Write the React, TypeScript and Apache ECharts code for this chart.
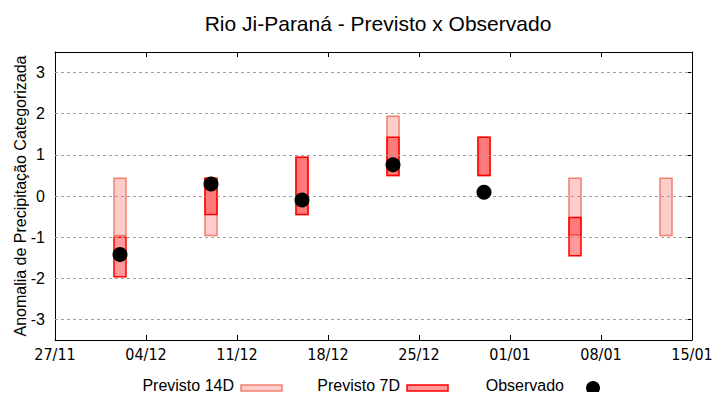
import React, { useEffect, useRef } from "react";
import * as echarts from "echarts";

const startDate = "2023-11-27";
const endDate = "2024-01-15";
const forecastDates = ["2023-12-02", "2023-12-09", "2023-12-16", "2023-12-23", "2023-12-30", "2024-01-06", "2024-01-13"];
// [low, high] for each forecast date, null when absent
const prev14Low = [-0.96, -0.96, -0.45, 0.5, 0.5, -0.95, -0.96];
const prev14High = [0.43, 0.43, 0.94, 1.94, 1.43, 0.43, 0.43];
const prev7Low: (number | null)[] = [-1.96, -0.45, -0.45, 0.5, 0.5, -1.45, null];
const prev7High: (number | null)[] = [-1.0, 0.43, 0.94, 1.43, 1.43, -0.52, null];
const observed: (number | null)[] = [-1.42, 0.29, -0.1, 0.76, 0.09, null, null];
const yTicks = [-3, -2, -1, 0, 1, 2, 3];

const DAY = 86400000;
const t0 = Date.parse(startDate + "T00:00:00Z");
const dayOf = (d: string) => Math.round((Date.parse(d + "T00:00:00Z") - t0) / DAY);
const totalDays = dayOf(endDate);

const fmtDay = (v: number) => {
  const d = new Date(t0 + v * DAY);
  const dd = String(d.getUTCDate()).padStart(2, "0");
  const mm = String(d.getUTCMonth() + 1).padStart(2, "0");
  return dd + "/" + mm;
};

const boxRender = (fill: string, stroke: string) => (params: any, api: any) => {
  const x = api.value(0);
  const lo = api.value(1);
  const hi = api.value(2);
  const pTop = api.coord([x, hi]);
  const pBot = api.coord([x, lo]);
  const w = 12;
  return {
    type: "rect",
    shape: { x: pTop[0] - w / 2, y: pTop[1], width: w, height: pBot[1] - pTop[1] },
    style: { fill, stroke, lineWidth: 1.5 },
  };
};

export default function App() {
  const ref = useRef<HTMLDivElement>(null);
  useEffect(() => {
    if (!ref.current) return;
    const chart = echarts.init(ref.current, null, { renderer: "svg" });
    const d14 = forecastDates.map((d, i) => [dayOf(d), prev14Low[i], prev14High[i]]);
    const d7 = forecastDates
      .map((d, i) => (prev7Low[i] == null ? null : [dayOf(d), prev7Low[i], prev7High[i]]))
      .filter((v) => v != null);
    const dObs = forecastDates
      .map((d, i) => (observed[i] == null ? null : [dayOf(d), observed[i]]))
      .filter((v) => v != null);

    const font = "'Liberation Sans', Arial, sans-serif";
    const narrow = "'Liberation Sans Narrow', 'DejaVu Sans Condensed', 'Liberation Sans', sans-serif";

    chart.setOption({
      animation: false,
      backgroundColor: "#ffffff",
      title: {
        text: "Rio Ji-Paraná - Previsto x Observado",
        left: 373,
        textAlign: "center",
        top: 8,
        textStyle: { fontFamily: font, fontSize: 21, fontWeight: "normal", color: "#000" },
      },
      grid: { left: 55, right: 28, top: 52, bottom: 60, containLabel: false, outerBoundsMode: "none" },
      xAxis: [
        {
          type: "value",
          min: 0,
          max: totalDays,
          interval: 7,
          position: "bottom",
          axisLine: { show: true, onZero: false, lineStyle: { color: "#000", width: 1 } },
          axisTick: { show: true, inside: true, length: 5, lineStyle: { color: "#000" } },
          axisLabel: {
            formatter: (v: number) => fmtDay(v),
            fontFamily: narrow,
            fontSize: 16,
            color: "#000",
            margin: 6,
          },
          splitLine: { show: false },
        },
        {
          type: "value",
          min: 0,
          max: totalDays,
          interval: 7,
          position: "top",
          axisLine: { show: true, onZero: false, lineStyle: { color: "#000", width: 1 } },
          axisTick: { show: true, inside: true, length: 5, lineStyle: { color: "#000" } },
          axisLabel: { show: false },
          splitLine: { show: false },
        },
      ],
      yAxis: [
        {
          type: "value",
          min: -3.5,
          max: 3.5,
          position: "left",
          name: "Anomalia de Precipitação Categorizada",
          nameLocation: "middle",
          nameGap: 27,
          nameMoveOverlap: false,
          nameTextStyle: { fontFamily: font, fontSize: 16, color: "#000" },
          axisLine: { show: true, onZero: false, lineStyle: { color: "#000", width: 1 } },
          axisTick: { show: false },
          axisLabel: {
            customValues: yTicks,
            fontFamily: font,
            fontSize: 16,
            color: "#000",
            margin: 10,
          },
          splitLine: { show: false },
        },
        {
          type: "value",
          min: -3.5,
          max: 3.5,
          position: "right",
          axisLine: { show: true, onZero: false, lineStyle: { color: "#000", width: 1 } },
          axisTick: { show: true, inside: true, length: 6, customValues: yTicks, lineStyle: { color: "#000" } },
          axisLabel: { show: false },
          splitLine: { show: false },
        },
      ],
      series: [
        {
          name: "grid",
          type: "line",
          data: [],
          markLine: {
            silent: true,
            symbol: "none",
            label: { show: false },
            lineStyle: { color: "#a0a0a0", type: [3, 3], width: 1 },
            data: yTicks.map((v) => ({ yAxis: v })),
          },
        },
        {
          name: "Previsto 14D",
          type: "custom",
          renderItem: boxRender("#ffcccc", "#f08070"),
          encode: { x: 0, y: [1, 2] },
          data: d14,
          z: 3,
        },
        {
          name: "Previsto 7D",
          type: "custom",
          renderItem: boxRender("rgba(255,0,0,0.4)", "#ff0000"),
          encode: { x: 0, y: [1, 2] },
          data: d7,
          z: 4,
        },
        {
          name: "Observado",
          type: "scatter",
          symbol: "circle",
          symbolSize: 15,
          itemStyle: { color: "#000", opacity: 1 },
          data: dObs,
          z: 5,
        },
      ],
      graphic: [
        { type: "text", right: 720 - 234, top: 377, style: { text: "Previsto 14D", font: "16px 'Liberation Sans', Arial, sans-serif", fill: "#000" } },
        { type: "rect", shape: { x: 241, y: 385, width: 41, height: 6 }, style: { fill: "#ffcccc", stroke: "#f08070", lineWidth: 1.5 } },
        { type: "text", right: 720 - 400, top: 377, style: { text: "Previsto 7D", font: "16px 'Liberation Sans', Arial, sans-serif", fill: "#000" } },
        { type: "rect", shape: { x: 407, y: 385, width: 41, height: 6 }, style: { fill: "#ff9999", stroke: "#ff0000", lineWidth: 1.5 } },
        { type: "text", right: 720 - 564, top: 377, style: { text: "Observado", font: "16px 'Liberation Sans', Arial, sans-serif", fill: "#000" } },
        { type: "circle", shape: { cx: 593, cy: 388, r: 7 }, style: { fill: "#000" } },
      ],
    });
    return () => chart.dispose();
  }, []);
  return <div ref={ref} style={{ width: 720, height: 400, margin: -8 }} />;
}
